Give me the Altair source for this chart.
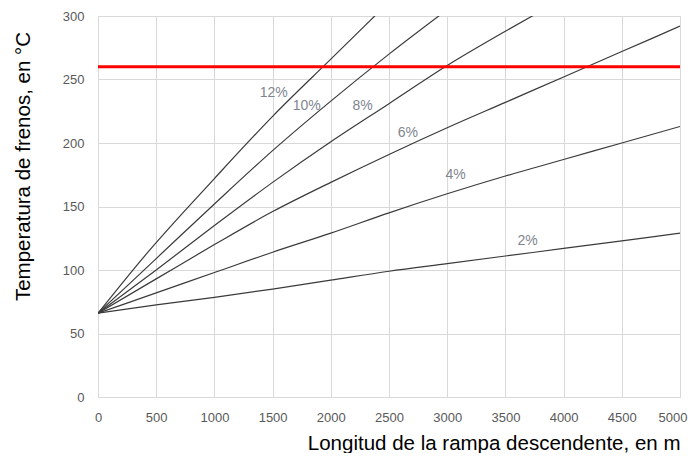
import altair as alt
import pandas as pd

# Data
x_steps = [0, 500, 1000, 1500, 2000, 2500, 3000, 3500, 4000, 4500, 5000]
x_12 = [0, 400, 1000, 1500, 2000, 2500]
y_12 = [66, 111, 172, 221, 266, 311]
x_10 = x_steps[:7]
y_10 = [66, 109, 152, 194, 233, 270, 305]
x_8 = x_steps[:9]
y_8 = [66, 100, 135, 169, 201, 231, 261, 288, 314]
x_6 = x_steps
y_6 = [66, 93, 120, 146, 169, 191, 212, 232, 252, 272, 292]
x_4 = x_steps
y_4 = [66, 82, 98, 114, 129, 145, 160, 174, 187, 200, 213]
x_2 = x_steps
y_2 = [66, 72.5, 78.5, 85, 92, 99, 105, 111, 117, 123, 129]

limit_temp = 260

label_text = ["12%", "10%", "8%", "6%", "4%", "2%"]
label_x = [1509, 1793, 2274, 2661, 3073, 3691]
label_y = [239, 229, 229, 208, 175, 123]

series = [("12%", x_12, y_12), ("10%", x_10, y_10), ("8%", x_8, y_8),
          ("6%", x_6, y_6), ("4%", x_4, y_4), ("2%", x_2, y_2)]
rows = []
for name, xs, ys in series:
    for xv, yv in zip(xs, ys):
        rows.append({"serie": name, "x": xv, "y": yv})
df = pd.DataFrame(rows)
labels = pd.DataFrame({"t": label_text, "x": label_x, "y": label_y})
limit = pd.DataFrame({"x": [0, 5000], "y": [limit_temp, limit_temp]})

GRID = "#d9d9d9"
TITLE_FONT = "Liberation Sans Narrow, Arial Narrow, Liberation Sans, sans-serif"
xscale = alt.Scale(domain=[0, 5000], nice=False)
yscale = alt.Scale(domain=[0, 300], nice=False)

xaxis = alt.Axis(
    title="Longitud de la rampa descendente, en m",
    values=list(range(0, 5001, 500)), format="d", labelFlush=False,
    labelAlign={"condition": {"test": "datum.value >= 5000", "value": "right"}, "value": "center"},
    labelOffset={"condition": {"test": "datum.value >= 5000", "value": 7}, "value": 0},
    grid=True, gridColor=GRID, domainColor=GRID, ticks=False,
    labelPadding=14, labelFontSize=13, labelColor="#595959", labelFont="Liberation Sans",
    titleFont=TITLE_FONT, titleFontSize=20.5,
    titleFontWeight="normal", titleColor="#000000",
    titleX=582, titleY=52, titleAlign="right", titleBaseline="alphabetic",
)
yaxis = alt.Axis(
    title="Temperatura de frenos, en °C",
    values=list(range(0, 301, 50)), format="d", labelFlush=False,
    grid=True, gridColor=GRID, domainColor=GRID, ticks=False,
    labelPadding=14, labelFontSize=13, labelColor="#595959", labelFont="Liberation Sans",
    titleFont=TITLE_FONT, titleFontSize=20.5,
    titleFontWeight="normal", titleColor="#000000",
    titleX=-75, titleY=150, titleAngle=270, titleAlign="center", titleBaseline="middle",
)

lines = alt.Chart(df).mark_line(
    color="#3a3a3a", strokeWidth=1.2, clip=True, interpolate="monotone"
).encode(
    x=alt.X("x:Q", scale=xscale, axis=xaxis),
    y=alt.Y("y:Q", scale=yscale, axis=yaxis),
    detail="serie:N",
)

red = alt.Chart(limit).mark_line(color="#ff0000", strokeWidth=3).encode(
    x=alt.X("x:Q", scale=xscale), y=alt.Y("y:Q", scale=yscale)
)

text = alt.Chart(labels).mark_text(
    font="Liberation Sans", fontSize=14, color="#7f8690"
).encode(
    x=alt.X("x:Q", scale=xscale), y=alt.Y("y:Q", scale=yscale), text="t:N"
)

chart = alt.layer(lines, red, text).properties(
    width=582, height=381,
    autosize=alt.AutoSizeParams(type="none"),
    padding={"left": 90, "top": 8, "right": 8, "bottom": 56},
).configure_view(stroke=None).configure(background="white")

chart.save("out.html", embed_options={"renderer": "svg", "actions": False})
